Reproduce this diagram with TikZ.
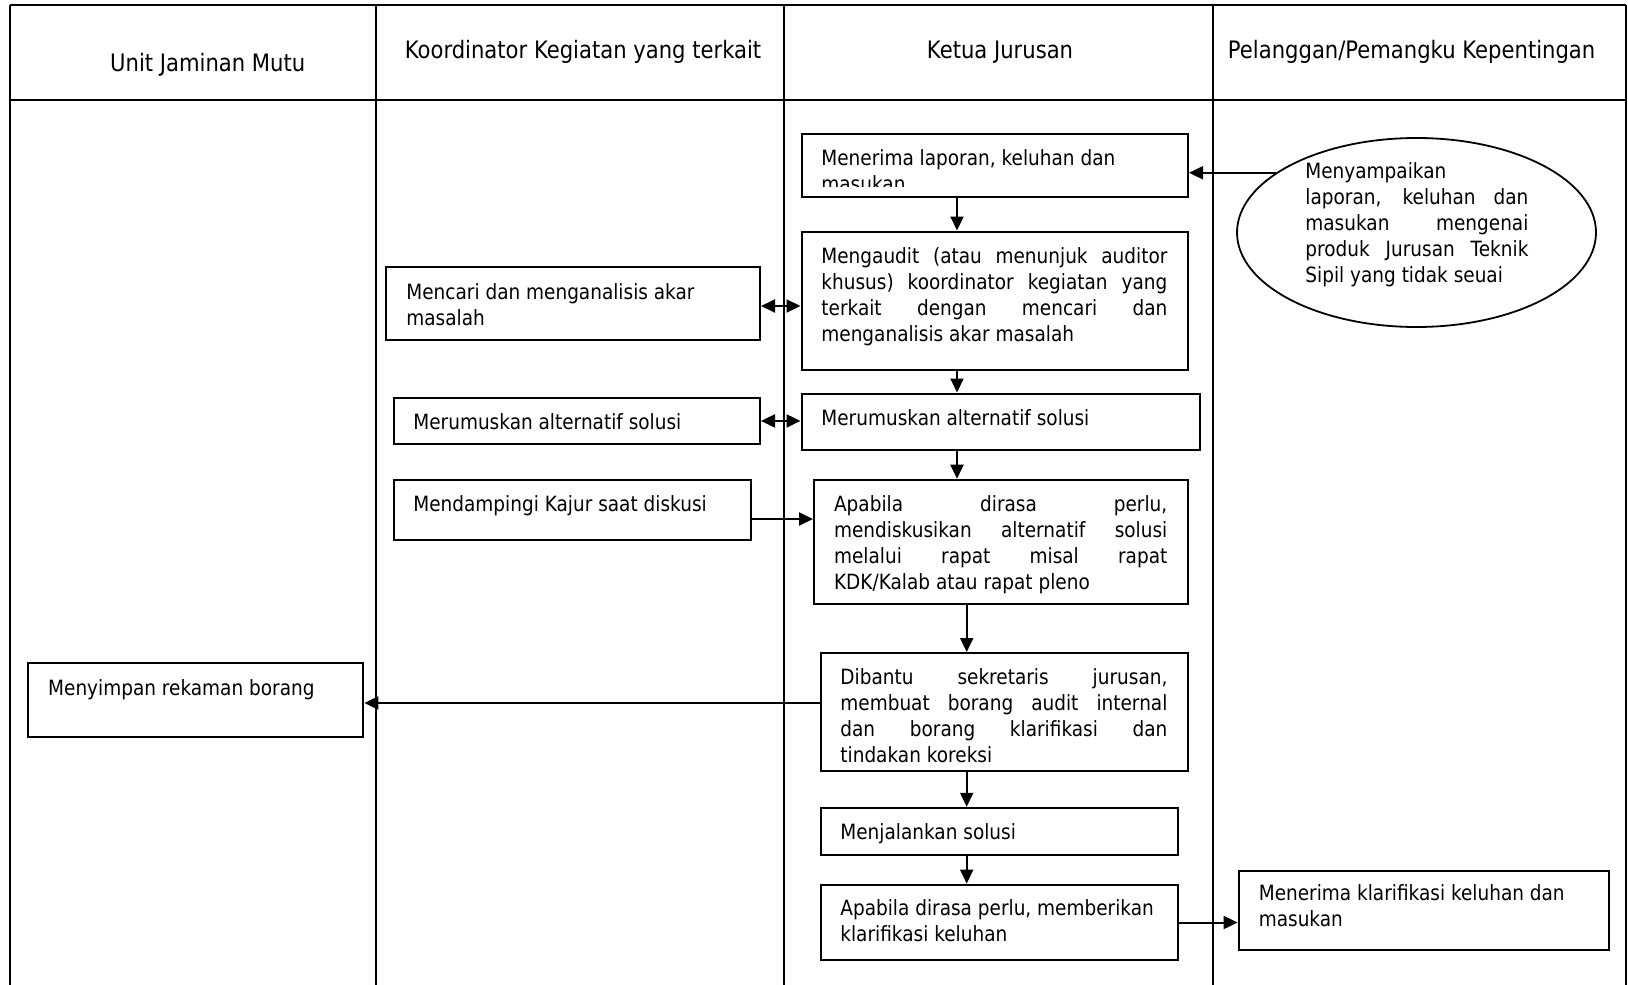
\documentclass[tikz,border=0pt]{standalone}
\usepackage{fontspec}
\setmainfont{DejaVu Sans}[FakeStretch=0.88]
\usetikzlibrary{arrows.meta,shapes.geometric}
\newcommand\myBody{\fontsize{10.5}{13}\selectfont}
\newcommand\myHead{\fontsize{12}{14}\selectfont}
\newcommand\jline[2]{\makebox[#1][s]{#2}}
\begin{document}
\begin{tikzpicture}[x=0.5pt,y=-0.5pt,
  laneline/.style={line width=0.75pt},
  procbox/.style={draw, line width=1pt, anchor=north west, inner sep=0pt},
  boxtext/.style={anchor=north west, inner sep=0pt, align=left, font=\myBody,
                  execute at begin node=\rule{0pt}{10pt}},
  headtext/.style={anchor=base, inner sep=0pt, font=\myHead},
  arr/.style={line width=1pt, -{Triangle[length=7pt,width=6.5pt]}},
  darr/.style={line width=1pt, {Triangle[length=7pt,width=6.5pt]}-{Triangle[length=7pt,width=6.5pt]}}]
\useasboundingbox (0,0) rectangle (1628,985);
\fill[white] (0,0) rectangle (1628,985);
% lanes
\draw[laneline] (10,5) -- (10,985);
\draw[laneline] (376,5) -- (376,985);
\draw[laneline] (784,5) -- (784,985);
\draw[laneline] (1213,5) -- (1213,985);
\draw[laneline] (1626,5) -- (1626,985);
\draw[line width=1.4pt] (10,5) -- (1626,5);
\draw[laneline] (10,100) -- (1626,100);
% headers
\node[headtext] (h1) at (207.7,71) {Unit Jaminan Mutu};
\node[headtext] (h2) at (583,58) {Koordinator Kegiatan yang terkait};
\node[headtext] (h3) at (1000,58) {Ketua Jurusan};
\node[headtext] (h4) at (1411.6,58) {Pelanggan/Pemangku Kepentingan};
% boxes
\node[procbox, minimum width=193.25pt, minimum height=31.5pt] (b1) at (800.5,133) {};
\node[procbox, minimum width=193.25pt, minimum height=69pt] (b2) at (800.5,230.5) {};
\node[procbox, minimum width=187pt, minimum height=36.25pt] (b3) at (385,266) {};
\node[procbox, minimum width=183.25pt, minimum height=23.35pt] (b4) at (392.5,396.6) {};
\node[procbox, minimum width=199.25pt, minimum height=28pt] (b5) at (800.5,392.5) {};
\node[procbox, minimum width=187pt, minimum height=62.25pt] (b6) at (813,478.7) {};
\node[procbox, minimum width=178.6pt, minimum height=30.1pt] (b7) at (392.5,478.7) {};
\node[procbox, minimum width=183.5pt, minimum height=59.2pt] (b8) at (820,652) {};
\node[procbox, minimum width=167.7pt, minimum height=36.9pt] (b9) at (27,662.4) {};
\node[procbox, minimum width=178.7pt, minimum height=23.35pt] (b10) at (820,806.8) {};
\node[procbox, minimum width=178.7pt, minimum height=37.9pt] (b11) at (820,883.6) {};
\node[procbox, minimum width=185.35pt, minimum height=39.5pt] (b12) at (1237.6,870) {};
\node[draw, ellipse, line width=0.9pt, minimum width=179.5pt, minimum height=94.5pt, inner sep=0pt] (ell) at (1416.5,232.5) {};
% texts
\begin{scope}
\clip (800,133) rectangle (1187,186.5);
\node[boxtext] (t1) at (821,149) {Menerima laporan, keluhan dan\\masukan};
\end{scope}
\node[boxtext] (t2) at (821,247) {\jline{173pt}{Mengaudit (atau menunjuk auditor}\\\jline{173pt}{khusus) koordinator kegiatan yang}\\\jline{173pt}{terkait dengan mencari dan}\\menganalisis akar masalah};
\node[boxtext] (t3) at (406,283) {Mencari dan menganalisis akar\\masalah};
\node[boxtext] (t4) at (413,409) {Merumuskan alternatif solusi};
\node[boxtext] (t5) at (821,405) {Merumuskan alternatif solusi};
\node[boxtext] (t6) at (833.7,495) {\jline{166.6pt}{Apabila dirasa perlu,}\\\jline{166.6pt}{mendiskusikan alternatif solusi}\\\jline{166.6pt}{melalui rapat misal rapat}\\KDK/Kalab atau rapat pleno};
\node[boxtext] (t7) at (413,491) {Mendampingi Kajur saat diskusi};
\node[boxtext] (t8) at (840,668) {\jline{163.5pt}{Dibantu sekretaris jurusan,}\\\jline{163.5pt}{membuat borang audit internal}\\\jline{163.5pt}{dan borang klarifikasi dan}\\tindakan koreksi};
\node[boxtext] (t9) at (47.8,675) {Menyimpan rekaman borang};
\node[boxtext] (t10) at (840,819) {Menjalankan solusi};
\node[boxtext] (t11) at (840,899) {Apabila dirasa perlu, memberikan\\klarifikasi keluhan};
\node[boxtext] (t12) at (1258.4,884) {Menerima klarifikasi keluhan dan\\masukan};
\node[boxtext] (te) at (1305,162) {Menyampaikan\\\jline{111.5pt}{laporan, keluhan dan}\\\jline{111.5pt}{masukan mengenai}\\\jline{111.5pt}{produk Jurusan Teknik}\\Sipil yang tidak seuai};
% connectors
\coordinate (sp1) at (957,0);
\coordinate (sp2) at (966.7,0);
\coordinate (r1) at (0,306);
\coordinate (r7) at (0,519);
\coordinate (r8) at (0,703);
\draw[arr] (ell.157) -- (ell.157 -| b1.east);
\draw[arr] (b1.south -| sp1) -- (b2.north -| sp1);
\draw[arr] (b2.south -| sp1) -- (b5.north -| sp1);
\draw[arr] (b5.south -| sp1) -- (b6.north -| sp1);
\draw[arr] (b6.south -| sp2) -- (b8.north -| sp2);
\draw[arr] (b8.south -| sp2) -- (b10.north -| sp2);
\draw[arr] (b10.south -| sp2) -- (b11.north -| sp2);
\draw[darr] (b3.east |- r1) -- (b2.west |- r1);
\draw[darr] (b4.east) -- (b4.east -| b5.west);
\draw[arr] (b7.east |- r7) -- (b6.west |- r7);
\draw[arr] (b8.west |- r8) -- (b9.east |- r8);
\draw[arr] (b11.east) -- (b11.east -| b12.west);
\end{tikzpicture}
\end{document}
